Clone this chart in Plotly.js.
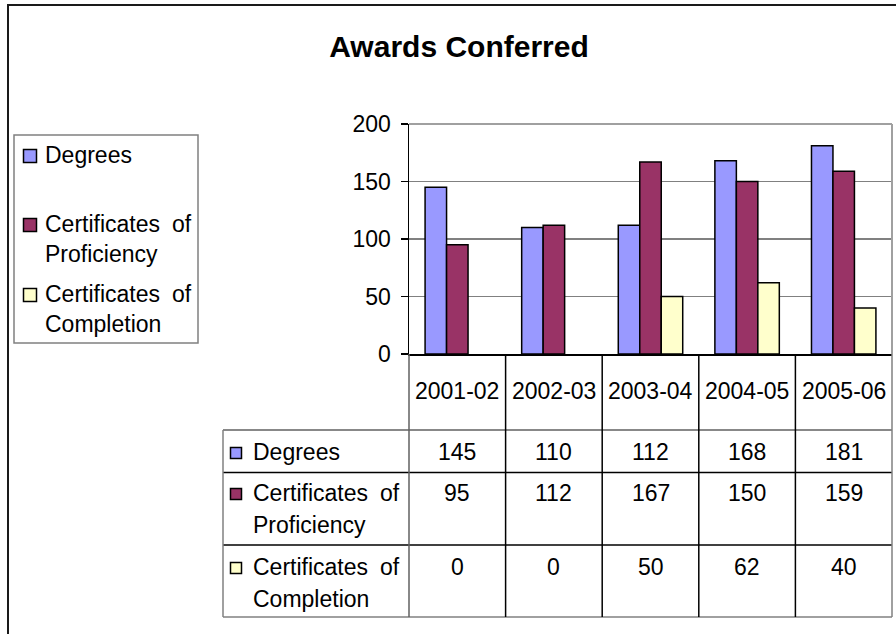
<!DOCTYPE html>
<html><head><meta charset="utf-8">
<script src="https://cdn.plot.ly/plotly-3.0.1.min.js"></script>
<style>html,body{margin:0;padding:0;background:#fff;} #chart{width:896px;height:634px;}</style>
</head><body><div id="chart"></div>
<script>
const categories = ['2001-02', '2002-03', '2003-04', '2004-05', '2005-06'];
const seriesNames = ['Degrees', 'Certificates of Proficiency', 'Certificates of Completion'];
const degrees = [145, 110, 112, 168, 181];
const proficiency = [95, 112, 167, 150, 159];
const completion = [0, 0, 50, 62, 40];
const yTicks = [0, 50, 100, 150, 200];
const chartTitle = 'Awards Conferred';

const seriesValues = [degrees, proficiency, completion];
const colors = ['#9999FF', '#993366', '#FFFFCC'];
const FONT = 'Liberation Sans, Arial, sans-serif';
const FS = 23;

// pixel -> paper helpers (layout only)
const W = 896, H = 634, L = 409, R = 892, T = 124, B = 354;
const px = x => (x - L) / (R - L);
const py = y => (B - y) / (B - T);

const traces = seriesNames.map((n, i) => ({
  type: 'bar', name: n, x: categories, y: seriesValues[i],
  marker: {color: colors[i], line: {color: '#000', width: seriesValues[i].map(v => v === 0 ? 0 : 1.5)}},
  showlegend: false, hoverinfo: 'none'
}));

const shapes = [];
const annotations = [];

function splitName(n) {
  const w = n.split(' ');
  if (w.length === 1) return [n];
  return [w.slice(0, -1).join(' '), w[w.length - 1]];
}
function addText(text, x, y, anchor, xref) {
  annotations.push({text: text, x: x, y: y, xref: xref || 'paper', yref: 'paper',
    xanchor: anchor, yanchor: 'middle', showarrow: false,
    font: {family: FONT, size: FS, color: '#000'}});
}
function addLabel(name, xl, xr, y0, lh) {
  const lines = splitName(name);
  lines.forEach((ln, k) => {
    const y = y0 + k * lh;
    const parts = ln.split(' ');
    if (k === 0 && parts.length > 1) {
      addText(parts.slice(0, -1).join(' '), px(xl), py(y), 'left');
      addText(parts[parts.length - 1], px(xr), py(y), 'right');
    } else {
      addText(ln, px(xl), py(y), 'left');
    }
  });
}
function line(x0, y0, x1, y1, color, width, xref) {
  shapes.push({type: 'line', xref: xref || 'paper', yref: 'paper',
    x0: x0, x1: x1, y0: y0, y1: y1, line: {color: color, width: width}});
}
function swatch(cx, cy, size, color) {
  shapes.push({type: 'rect', xref: 'paper', yref: 'paper',
    x0: px(cx - size / 2), x1: px(cx + size / 2), y0: py(cy + size / 2), y1: py(cy - size / 2),
    fillcolor: color, line: {color: '#000', width: 1.5}});
}

// outer frame
shapes.push({type: 'rect', xref: 'paper', yref: 'paper', x0: px(8), x1: px(905), y0: py(645), y1: py(5),
  line: {color: '#1a1a1a', width: 2}, fillcolor: 'rgba(0,0,0,0)'});

// plot area top/right border
line(0, 1, 1, 1, '#a0a0a0', 2);
line(1, 0, 1, 1, '#a0a0a0', 2);

// legend box
shapes.push({type: 'rect', xref: 'paper', yref: 'paper', x0: px(14), x1: px(198), y0: py(343), y1: py(135),
  line: {color: '#808080', width: 1.5}, fillcolor: 'rgba(0,0,0,0)'});
const legendY = [155, 224, 294];
seriesNames.forEach((n, i) => {
  swatch(30, legendY[i] + 1, 13, colors[i]);
  addLabel(n, 43, 194, legendY[i], 30);
});

// data table
const rowLines = [430, 472.5, 545, 617];
const rowColors = ['#606060', '#000', '#000', '#808080'];
rowLines.forEach((y, k) => line(px(223), py(y), 1, py(y), rowColors[k], 1.5));
line(px(223), py(430), px(223), py(617), '#808080', 1.5);
line(0, py(354), 0, py(617), '#606060', 1.5);
line(1, py(354), 1, py(617), '#808080', 1.5);
for (let i = 1; i < categories.length; i++) {
  line(i - 0.5, py(354), i - 0.5, py(617), '#000', 1.5, 'x');
}
categories.forEach(c => {
  annotations.push({text: c, x: c, y: py(391), xref: 'x', yref: 'paper', xanchor: 'center', yanchor: 'middle',
    showarrow: false, font: {family: FONT, size: FS, color: '#000'}});
});
const rowY = [452, 493, 567];
seriesNames.forEach((n, i) => {
  swatch(236, rowY[i] + 1, 11, colors[i]);
  addLabel(n, 251, 402, rowY[i], 32);
  seriesValues[i].forEach((v, j) => {
    annotations.push({text: String(v), x: categories[j], y: py(rowY[i]), xref: 'x', yref: 'paper',
      xanchor: 'center', yanchor: 'middle', showarrow: false,
      font: {family: FONT, size: FS, color: '#000'}});
  });
});

const layout = {
  width: W, height: H,
  margin: {l: L, r: W - R, t: T, b: H - B, autoexpand: false},
  paper_bgcolor: '#fff', plot_bgcolor: '#fff',
  font: {family: FONT, size: FS, color: '#000'},
  title: {text: '<b>' + chartTitle + '</b>', font: {family: FONT, size: 30, color: '#000'},
    xref: 'container', yref: 'container', x: 459 / W, y: 1 - 46 / H, xanchor: 'center', yanchor: 'middle'},
  barmode: 'group', bargap: 0.333, bargroupgap: 0,
  xaxis: {type: 'category', range: [-0.5, categories.length - 0.5], showticklabels: false, ticks: '',
    showline: true, linecolor: '#000', linewidth: 1.5, showgrid: false, zeroline: false, fixedrange: true},
  yaxis: {range: [0, 200], tickvals: yTicks, ticks: 'outside', ticklen: 7, tickcolor: '#000', tickwidth: 1.5,
    showline: true, linecolor: '#000', linewidth: 1.5, gridcolor: '#808080', gridwidth: 1.2, zeroline: false,
    tickfont: {family: FONT, size: FS, color: '#000'}, ticklabelstandoff: 5, fixedrange: true},
  shapes: shapes, annotations: annotations, showlegend: false
};
Plotly.newPlot('chart', traces, layout, {displayModeBar: false, staticPlot: true});
</script></body></html>
